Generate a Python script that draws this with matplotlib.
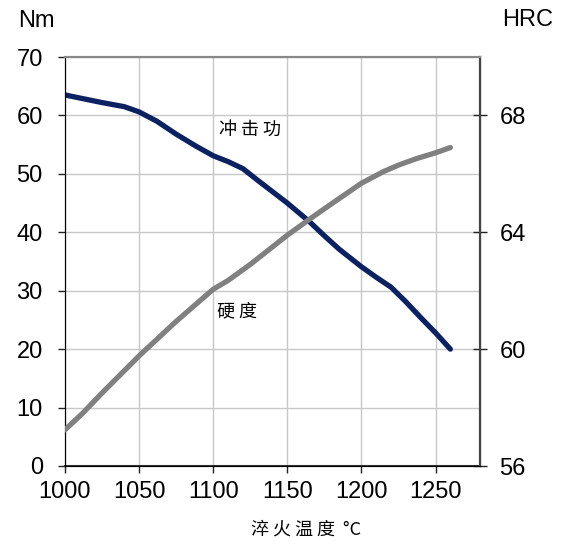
import matplotlib
matplotlib.use("Agg")
import matplotlib.pyplot as plt

# quench temperature (°C) and readings
temp_impact = [1000, 1025, 1040, 1050, 1062, 1075, 1088, 1100, 1110, 1120, 1130,
               1150, 1165, 1175, 1185, 1200, 1210, 1220, 1230, 1240, 1250, 1260]
impact_nm   = [63.5, 62.2, 61.5, 60.6, 59.0, 56.8, 54.8, 53.1, 52.1, 50.9, 48.9,
               45.0, 41.8, 39.4, 37.1, 34.1, 32.3, 30.6, 28.1, 25.4, 22.8, 20.0]

temp_hard = [1000, 1012, 1025, 1050, 1075, 1100, 1110, 1125, 1135, 1150, 1165,
             1180, 1200, 1215, 1225, 1237, 1250, 1260]
hard_hrc  = [57.24, 57.81, 58.5, 59.77, 60.95, 62.05, 62.35, 62.9, 63.3, 63.9, 64.45,
             64.98, 65.68, 66.08, 66.3, 66.52, 66.72, 66.9]

x_ticks     = [1000, 1050, 1100, 1150, 1200, 1250]
left_ticks  = [0, 10, 20, 30, 40, 50, 60, 70]
right_ticks = [56, 60, 64, 68]

C_IMPACT = "#0b2160"
C_HARD   = "#808080"
C_GRID   = "#c8c8c8"

CJK = ["Noto Sans CJK SC", "DejaVu Sans"]
LAT = ["Liberation Sans", "DejaVu Sans"]

fig = plt.figure(figsize=(5.69, 5.44), dpi=100)
ax = fig.add_axes([65 / 569, 1 - 466 / 544, 415 / 569, 409 / 544])
ax2 = ax.twinx()

ax.set_xlim(1000, 1280)
ax.set_ylim(0, 70)
ax2.set_ylim(56, 70)

ax.set_xticks(x_ticks)
ax.set_yticks(left_ticks)
ax2.set_yticks(right_ticks)
ax.grid(True, color=C_GRID, lw=1.0)
ax.set_axisbelow(True)

ax.plot(temp_impact, impact_nm, color=C_IMPACT, lw=3.8,
        solid_capstyle="round", solid_joinstyle="round", zorder=3)
ax2.plot(temp_hard, hard_hrc, color=C_HARD, lw=3.8,
         solid_capstyle="round", solid_joinstyle="round", zorder=3)

for lab in ax.get_xticklabels() + ax.get_yticklabels() + ax2.get_yticklabels():
    lab.set_family(LAT)
    lab.set_fontsize(17)

ax.tick_params(axis="x", direction="out", length=5, width=1, pad=6, color="#222222")
ax.tick_params(axis="y", direction="out", length=5, width=1, pad=11, color="#222222")
ax2.tick_params(axis="y", direction="inout", length=10, width=1, pad=9, color="#222222")

ax.spines["left"].set_color("#111111")
ax.spines["bottom"].set_color("#333333")
ax.spines["bottom"].set_linewidth(1.5)
ax2.spines["right"].set_color("#444444")
ax2.spines["right"].set_linewidth(1.6)
for a in (ax, ax2):
    a.spines["top"].set_color("#888888")
    a.spines["top"].set_linewidth(1.5)

ax.text(1124.8, 57.5, "冲 击 功", family=CJK, fontsize=13, ha="center", va="center")
ax.text(1116, 26.5, "硬 度", family=CJK, fontsize=13, ha="center", va="center")

fig.text(36 / 569, 1 - 21 / 544, "Nm", family=LAT, fontsize=17, ha="center", va="center")
fig.text(528 / 569, 1 - 20 / 544, "HRC", family=LAT, fontsize=17, ha="center", va="center")
fig.text(306 / 569, 1 - 530 / 544, "淬 火 温 度  °C", family=CJK, fontsize=13,
         ha="center", va="center")

fig.savefig("out.png", dpi=100)
